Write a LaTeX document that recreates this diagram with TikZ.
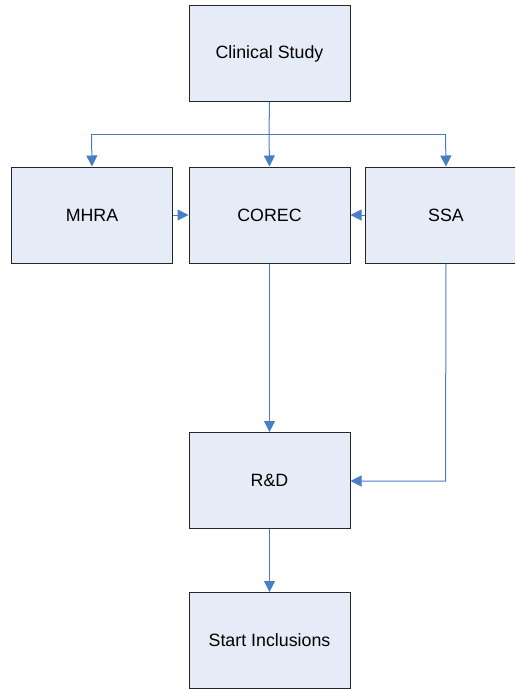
\documentclass[tikz,border=0pt]{standalone}
\usepackage{fontspec}
\setmainfont{Liberation Sans}
\usetikzlibrary{arrows.meta}
\definecolor{boxfill}{HTML}{E6ECF7}
\definecolor{arrowblue}{HTML}{4A7EC4}
\begin{document}
\begin{tikzpicture}[x=1pt,y=-1pt,
  box/.style={draw=black!85,fill=boxfill,line width=1pt,minimum width=161pt,minimum height=96pt,inner sep=0pt,font=\fontsize{17.8}{20}\selectfont,anchor=north west},
  conn/.style={draw=arrowblue,line width=1pt,-{Triangle[width=11pt,length=11pt]}},
  line/.style={draw=arrowblue,line width=1pt}]
\useasboundingbox (0,0) rectangle (515,689);
\clip (0,0) rectangle (515,689);
\node[box] (cs) at (188.5,5) {Clinical Study};
\node[box] (mhra) at (11,166.5) {MHRA};
\node[box] (corec) at (188.5,166.5) {COREC};
\node[box] (ssa) at (365,166.5) {SSA};
\node[box] (rd) at (188.5,432) {R\&D};
\node[box] (si) at (188.5,592) {Start Inclusions};
\coordinate (j) at (269,134);
\coordinate (jl) at (91.5,134);
\coordinate (jr) at (445.5,134);
\coordinate (sc) at (445.5,481);
\draw[line] (cs.south) -- (j);
\draw[line] (jl) -- (jr);
\draw[conn] (jl) -- (mhra.north);
\draw[conn] (j) -- (corec.north);
\draw[conn] (jr) -- (ssa.north);
\draw[conn] (mhra.east) -- (corec.west);
\draw[conn] (ssa.west) -- (corec.east);
\draw[conn] (corec.south) -- (rd.north);
\draw[conn] (ssa.south) -- (sc) -- (rd.east |- sc);
\draw[conn] (rd.south) -- (si.north);
\end{tikzpicture}
\end{document}
